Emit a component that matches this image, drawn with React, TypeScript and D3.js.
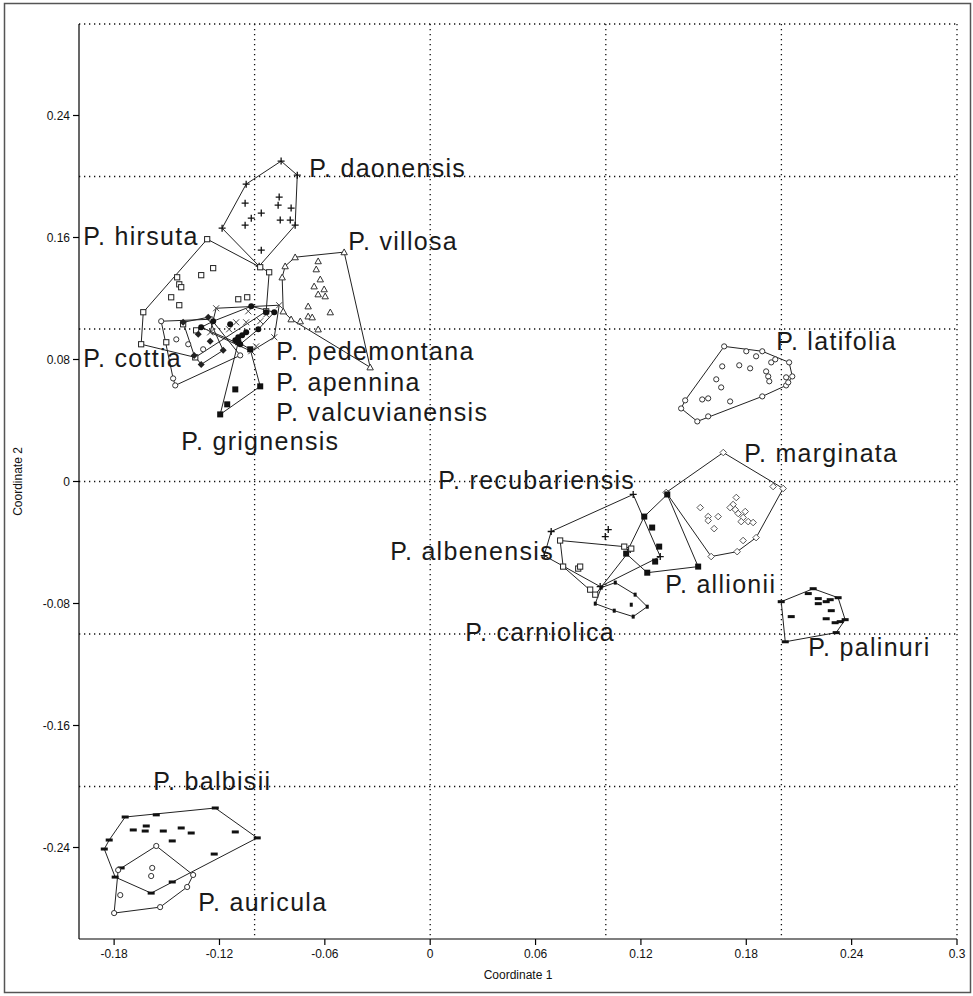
import React from "react";
import * as d3 from "d3";

type Pt = [number, number];

const W = 973;
const H = 996;

const xDomain: Pt = [-0.2, 0.3];
const yDomain: Pt = [-0.3, 0.3];
const xTicks = [-0.18, -0.12, -0.06, 0, 0.06, 0.12, 0.18, 0.24, 0.3];
const yTicks = [0.24, 0.16, 0.08, 0, -0.08, -0.16, -0.24];
const xGrid = [-0.1, 0, 0.1, 0.2, 0.3];
const yGrid = [0.3, 0.2, 0.1, 0, -0.1, -0.2];

const daonensis: Pt[] = [
  [-0.0849, 0.2101], [-0.0757, 0.2009], [-0.0769, 0.1681], [-0.0974, 0.1412],
  [-0.1185, 0.1661], [-0.1048, 0.195], [-0.086, 0.1865], [-0.0866, 0.1812],
  [-0.0792, 0.1793], [-0.1054, 0.1825], [-0.0962, 0.176], [-0.1019, 0.1727],
  [-0.1054, 0.1681], [-0.0854, 0.1714], [-0.0797, 0.1714], [-0.0962, 0.1517],
];
const hirsuta: Pt[] = [
  [-0.127, 0.1589], [-0.0968, 0.1405], [-0.0917, 0.1372], [-0.0934, 0.1116],
  [-0.1236, 0.1399], [-0.1304, 0.1353], [-0.1441, 0.1339], [-0.1429, 0.1293],
  [-0.1418, 0.1274], [-0.1475, 0.1208], [-0.1429, 0.1156], [-0.1042, 0.1208],
  [-0.1634, 0.111], [-0.1646, 0.09], [-0.1503, 0.0913], [-0.1407, 0.1031],
  [-0.1333, 0.0991], [-0.1338, 0.0814], [-0.1093, 0.1195],
];
const villosa: Pt[] = [
  [-0.0826, 0.1412], [-0.0769, 0.1471], [-0.049, 0.1504], [-0.0342, 0.0749],
  [-0.0837, 0.1116], [-0.0843, 0.1339], [-0.0638, 0.1445], [-0.0649, 0.1392],
  [-0.0626, 0.1326], [-0.0661, 0.128], [-0.0604, 0.1261], [-0.0638, 0.1228],
  [-0.0598, 0.1215], [-0.0695, 0.1149], [-0.0569, 0.111], [-0.0695, 0.1083],
  [-0.0672, 0.1077], [-0.0792, 0.1064], [-0.074, 0.1051], [-0.0638, 0.0998],
];
const cottia: Pt[] = [
  [-0.1532, 0.1051], [-0.1452, 0.063], [-0.1082, 0.0827], [-0.1247, 0.1064],
  [-0.1378, 0.09], [-0.1464, 0.0676], [-0.1446, 0.0932], [-0.1293, 0.0867],
];
const pedemontana: Pt[] = [
  [-0.1219, 0.1136], [-0.086, 0.1156], [-0.0888, 0.0946], [-0.1019, 0.0854],
  [-0.1253, 0.0978], [-0.1036, 0.1116], [-0.1105, 0.1044], [-0.1048, 0.1044],
  [-0.0934, 0.1096], [-0.1145, 0.0998], [-0.0991, 0.0886], [-0.0968, 0.1051],
];
const apennina: Pt[] = [
  [-0.1304, 0.1011], [-0.1236, 0.1051], [-0.1139, 0.1031], [-0.1093, 0.0946],
  [-0.1071, 0.0959], [-0.111, 0.0926], [-0.0979, 0.0998], [-0.0934, 0.111],
  [-0.0888, 0.111], [-0.1019, 0.1149], [-0.1048, 0.0978], [-0.1082, 0.09],
];
const valcuvianensis: Pt[] = [
  [-0.1407, 0.1044], [-0.1264, 0.1077], [-0.1179, 0.086], [-0.1304, 0.0768],
  [-0.1344, 0.0827], [-0.1321, 0.0965], [-0.1253, 0.0919],
];
const grignensis: Pt[] = [
  [-0.1196, 0.044], [-0.0968, 0.0624], [-0.1025, 0.0867], [-0.1093, 0.0913],
  [-0.111, 0.0604], [-0.1156, 0.0506],
];
const latifolia: Pt[] = [
  [0.1674, 0.0886], [0.18, 0.0854], [0.1891, 0.0854], [0.2044, 0.0781],
  [0.2062, 0.0689], [0.2027, 0.063], [0.1891, 0.0558], [0.1583, 0.0427],
  [0.1521, 0.0394], [0.1429, 0.0479], [0.1452, 0.0532], [0.1856, 0.0821],
  [0.1942, 0.0781], [0.1965, 0.0801], [0.1663, 0.0755], [0.176, 0.0762],
  [0.1822, 0.0742], [0.1913, 0.0722], [0.1925, 0.0689], [0.1931, 0.0657],
  [0.2027, 0.0683], [0.2039, 0.065], [0.1629, 0.067], [0.1657, 0.0617],
  [0.1549, 0.0538], [0.1583, 0.0545], [0.1708, 0.0525],
];
const marginata: Pt[] = [
  [0.1669, 0.019], [0.201, -0.0046], [0.1953, -0.0033], [0.1856, -0.0368],
  [0.1782, -0.0387], [0.1748, -0.046], [0.16, -0.0492], [0.1344, -0.0072],
  [0.1743, -0.0105], [0.1725, -0.0151], [0.1538, -0.0171], [0.1583, -0.023],
  [0.1583, -0.0256], [0.164, -0.023], [0.1617, -0.0309], [0.1737, -0.0184],
  [0.1754, -0.021], [0.1782, -0.0236], [0.1771, -0.0263], [0.1811, -0.0263],
  [0.1839, -0.0269], [0.1794, -0.0197], [0.1708, -0.0171],
];
const allionii: Pt[] = [
  [0.135, -0.0085], [0.1526, -0.0558], [0.1236, -0.0598], [0.1116, -0.0473],
  [0.1219, -0.023], [0.1264, -0.0302], [0.1304, -0.0427], [0.1281, -0.0525],
];
const recubariensis: Pt[] = [
  [0.1156, -0.0085], [0.131, -0.0492], [0.0689, -0.0328], [0.0649, -0.0486],
  [0.0968, -0.0689], [0.0997, -0.0361], [0.1014, -0.0315], [0.1139, -0.0446],
];
const albenensis: Pt[] = [
  [0.074, -0.0387], [0.0757, -0.0558], [0.0843, -0.0571], [0.0854, -0.0558],
  [0.0911, -0.0709], [0.094, -0.0742], [0.1145, -0.044], [0.1105, -0.0427],
];
const carniolica: Pt[] = [
  [0.0974, -0.0696], [0.1054, -0.0663], [0.1167, -0.0742], [0.1236, -0.0821],
  [0.1156, -0.0886], [0.1048, -0.0847], [0.094, -0.0801], [0.1145, -0.0808],
];
const palinuri: Pt[] = [
  [0.2181, -0.0703], [0.2323, -0.0762], [0.2363, -0.0906], [0.2312, -0.0991],
  [0.2022, -0.1051], [0.1999, -0.0788], [0.2153, -0.0735], [0.221, -0.0768],
  [0.2255, -0.0788], [0.2278, -0.0775], [0.221, -0.0801], [0.2284, -0.0847],
  [0.2056, -0.0886], [0.2255, -0.09], [0.2306, -0.0926], [0.2335, -0.0919],
];
const balbisii: Pt[] = [
  [-0.156, -0.2186], [-0.1691, -0.2285], [-0.1617, -0.2259], [-0.1623, -0.2292],
  [-0.152, -0.2292], [-0.1418, -0.2272], [-0.1361, -0.2305], [-0.1469, -0.2357],
  [-0.111, -0.2298], [-0.123, -0.2443], [-0.1828, -0.2351], [-0.1856, -0.241],
  [-0.1737, -0.22], [-0.1224, -0.2141], [-0.0985, -0.2337], [-0.176, -0.2534],
  [-0.1794, -0.2594], [-0.1469, -0.2626], [-0.1589, -0.2699],
];
const auricula: Pt[] = [
  [-0.156, -0.239], [-0.135, -0.258], [-0.1777, -0.2548], [-0.18, -0.283],
  [-0.1538, -0.2791], [-0.1384, -0.2659], [-0.1765, -0.2712], [-0.1583, -0.2534],
  [-0.1589, -0.2587],
];

const groups = [
  { name: "P. daonensis", points: daonensis, marker: "plus" },
  { name: "P. hirsuta", points: hirsuta, marker: "square" },
  { name: "P. villosa", points: villosa, marker: "triangle" },
  { name: "P. cottia", points: cottia, marker: "circle" },
  { name: "P. pedemontana", points: pedemontana, marker: "cross" },
  { name: "P. apennina", points: apennina, marker: "filledCircle" },
  { name: "P. valcuvianensis", points: valcuvianensis, marker: "filledDiamond" },
  { name: "P. grignensis", points: grignensis, marker: "filledSquare" },
  { name: "P. latifolia", points: latifolia, marker: "circle" },
  { name: "P. marginata", points: marginata, marker: "diamond" },
  { name: "P. allionii", points: allionii, marker: "filledSquare" },
  { name: "P. recubariensis", points: recubariensis, marker: "plus" },
  { name: "P. albenensis", points: albenensis, marker: "square" },
  { name: "P. carniolica", points: carniolica, marker: "smallDash" },
  { name: "P. palinuri", points: palinuri, marker: "dash" },
  { name: "P. balbisii", points: balbisii, marker: "dash" },
  { name: "P. auricula", points: auricula, marker: "circle" },
];

// label anchors (left x, baseline y) in data units
const labelNames = [
  "P. daonensis", "P. hirsuta", "P. villosa", "P. cottia", "P. pedemontana",
  "P. apennina", "P. valcuvianensis", "P. grignensis", "P. latifolia",
  "P. marginata", "P. recubariensis", "P. albenensis", "P. allionii",
  "P. carniolica", "P. palinuri", "P. balbisii", "P. auricula",
];
const labelX = [
  -0.0689, -0.1976, -0.0467, -0.1976, -0.0877, -0.0877, -0.0877, -0.1418,
  0.197, 0.1788, 0.0046, -0.0228, 0.1338, 0.0199, 0.2153, -0.1577, -0.1321,
];
const labelY = [
  0.1996, 0.155, 0.1517, 0.0749, 0.0794, 0.0591, 0.0394, 0.0204,
  0.086, 0.0125, -0.0046, -0.0512, -0.0729, -0.1044, -0.1143, -0.2022, -0.2817,
];

const M = { left: 79, right: 957, top: 24, bottom: 939 };

function Marker({ type, cx, cy }: { type: string; cx: number; cy: number }) {
  const s = 2.6;
  switch (type) {
    case "plus":
      return (
        <path d={`M${cx - 3.5},${cy}H${cx + 3.5}M${cx},${cy - 3.5}V${cy + 3.5}`} stroke="#111" strokeWidth={1.3} />
      );
    case "cross":
      return (
        <path d={`M${cx - 3},${cy - 3}L${cx + 3},${cy + 3}M${cx - 3},${cy + 3}L${cx + 3},${cy - 3}`} stroke="#444" strokeWidth={1} />
      );
    case "square":
      return <rect x={cx - s} y={cy - s} width={2 * s} height={2 * s} fill="#fff" stroke="#222" strokeWidth={1} />;
    case "filledSquare":
      return <rect x={cx - 3} y={cy - 3} width={6} height={6} fill="#111" />;
    case "circle":
      return <circle cx={cx} cy={cy} r={2.6} fill="#fff" stroke="#333" strokeWidth={1} />;
    case "filledCircle":
      return <circle cx={cx} cy={cy} r={3} fill="#111" />;
    case "triangle":
      return (
        <path d={`M${cx},${cy - 3.2}L${cx + 3.2},${cy + 2.6}L${cx - 3.2},${cy + 2.6}Z`} fill="#fff" stroke="#333" strokeWidth={1} />
      );
    case "diamond":
      return (
        <path d={`M${cx},${cy - 3.3}L${cx + 3.3},${cy}L${cx},${cy + 3.3}L${cx - 3.3},${cy}Z`} fill="#fff" stroke="#555" strokeWidth={1} />
      );
    case "filledDiamond":
      return <path d={`M${cx},${cy - 3.5}L${cx + 3.5},${cy}L${cx},${cy + 3.5}L${cx - 3.5},${cy}Z`} fill="#222" />;
    case "dash":
      return <rect x={cx - 3.5} y={cy - 1.5} width={7} height={3} fill="#111" />;
    case "smallDash":
      return <rect x={cx - 1.5} y={cy - 2} width={3} height={4} fill="#111" />;
    default:
      return null;
  }
}

export default function App() {
  const x = d3.scaleLinear().domain(xDomain).range([M.left, M.right]);
  const y = d3.scaleLinear().domain(yDomain).range([M.bottom, M.top]);
  const font = "'Liberation Sans', Arial, Helvetica, sans-serif";

  return (
    <svg
      width={W}
      height={H}
      viewBox={`0 0 ${W} ${H}`}
      style={{ position: "absolute", left: 0, top: 0, display: "block", background: "#fff" }}
    >
      <rect x={0} y={0} width={W} height={H} fill="#fff" />
      <rect x={4.5} y={3.5} width={966} height={989} fill="none" stroke="#555" strokeWidth={1.5} />

      {/* grid */}
      <g stroke="#111" strokeWidth={1.3} strokeDasharray="1.3,3.7">
        {xGrid.map((g) => (
          <line key={"xg" + g} x1={x(g)} x2={x(g)} y1={M.top} y2={M.bottom} />
        ))}
        {yGrid.map((g) => (
          <line key={"yg" + g} x1={M.left} x2={M.right} y1={y(g)} y2={y(g)} />
        ))}
      </g>

      {/* hulls */}
      <g fill="none" stroke="#222" strokeWidth={1}>
        {groups.map((g) => {
          const pix = g.points.map((p) => [x(p[0]), y(p[1])] as [number, number]);
          const hull = d3.polygonHull(pix);
          if (!hull) return null;
          return <path key={"h" + g.name} d={"M" + hull.map((p) => p.join(",")).join("L") + "Z"} />;
        })}
      </g>

      {/* markers */}
      {groups.map((g) => (
        <g key={"m" + g.name}>
          {g.points.map((p, i) => (
            <Marker key={i} type={g.marker} cx={x(p[0])} cy={y(p[1])} />
          ))}
        </g>
      ))}

      {/* labels */}
      <g fontFamily={font} fontSize={25} fill="#1a1a1a" letterSpacing={1.3}>
        {labelNames.map((t, i) => (
          <text key={t} x={x(labelX[i])} y={y(labelY[i])}>
            {t}
          </text>
        ))}
      </g>

      {/* axes */}
      <g stroke="#000" strokeWidth={1.2}>
        <line x1={M.left} x2={M.left} y1={M.top} y2={M.bottom} />
        <line x1={M.left} x2={M.right} y1={M.bottom} y2={M.bottom} />
        {xTicks.map((t) => (
          <line key={"xt" + t} x1={x(t)} x2={x(t)} y1={M.bottom} y2={M.bottom + 6} />
        ))}
        {yTicks.map((t) => (
          <line key={"yt" + t} x1={M.left - 6} x2={M.left} y1={y(t)} y2={y(t)} />
        ))}
      </g>
      <g fontFamily={font} fontSize={12} fill="#111">
        {xTicks.map((t) => (
          <text key={"xl" + t} x={x(t)} y={M.bottom + 19} textAnchor="middle">
            {String(t)}
          </text>
        ))}
        {yTicks.map((t) => (
          <text key={"yl" + t} x={M.left - 9} y={y(t) + 4} textAnchor="end">
            {String(t)}
          </text>
        ))}
        <text x={(M.left + M.right) / 2} y={979} textAnchor="middle">
          Coordinate 1
        </text>
        <text transform={`translate(22,${(M.top + M.bottom) / 2}) rotate(-90)`} textAnchor="middle">
          Coordinate 2
        </text>
      </g>
    </svg>
  );
}
